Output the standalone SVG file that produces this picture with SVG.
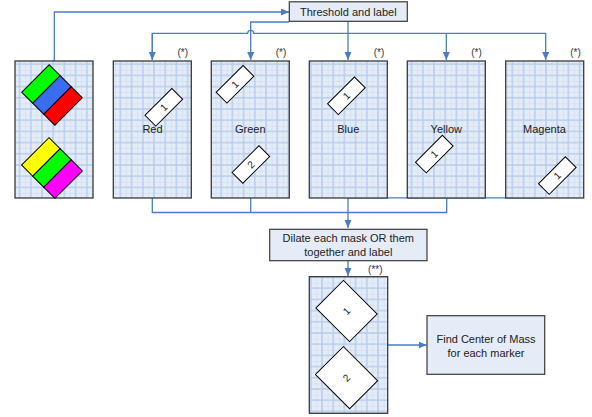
<svg xmlns="http://www.w3.org/2000/svg" width="592" height="417" viewBox="0 0 592 417">
  <style>
    .panel { fill: url(#grid); stroke: #3a3a3a; stroke-width: 1.3; }
    .box { fill: #e5ecf7; stroke: #3a3a3a; stroke-width: 1.2; }
    .mk { fill: #ffffff; stroke: #000000; stroke-width: 1; }
    .stripe { stroke: #000000; stroke-width: 1; }
    .conn { fill: none; stroke: #4a7cc8; stroke-width: 1.3; }
    .lbl { font-family: "Liberation Sans", Arial, sans-serif; font-size: 11px; fill: #222222; text-anchor: middle; }
    .num { font-family: "Liberation Sans", Arial, sans-serif; font-size: 10px; fill: #222222; text-anchor: middle; dominant-baseline: central; }
    .note { font-family: "Liberation Sans", Arial, sans-serif; font-size: 10px; fill: #333333; text-anchor: middle; }
  </style>
  <defs>
    <pattern id="grid" patternUnits="userSpaceOnUse" x="2.8" y="2.6" width="11.2" height="11.2">
      <rect width="11.2" height="11.2" fill="#e4ecf8"/>
      <rect x="0" y="0" width="0.6" height="11.2" fill="#d0dcf0"/>
      <rect x="0" y="0" width="11.2" height="0.6" fill="#d0dcf0"/>
      <rect x="4.85" y="0" width="1.5" height="11.2" fill="#b9cdeb"/>
      <rect x="0" y="4.85" width="11.2" height="1.5" fill="#b9cdeb"/>
    </pattern>
    <marker id="arrow" markerUnits="userSpaceOnUse" markerWidth="9" markerHeight="8" refX="8" refY="3.5" orient="auto">
      <path d="M0,0 L8,3.5 L0,7 z" fill="#4a7cc8"/>
    </marker>
  </defs>

  <!-- connectors -->
  <g id="connectors">
    <path class="conn" d="M54.3,61 V12 H289" marker-end="url(#arrow)"/>
    <path class="conn" d="M289,22 H250.7 V60" marker-end="url(#arrow)"/>
    <path class="conn" d="M348,21 V60" marker-end="url(#arrow)"/>
    <path class="conn" d="M152.3,60 V33.3 H247.7 A3,3 0 0 1 253.7,33.3 H545.7 V60" marker-end="url(#arrow)"/>
    <path class="conn" d="M446.3,33.3 V60" marker-end="url(#arrow)"/>
    <path class="conn" d="M152.3,33.3 V60" marker-end="url(#arrow)"/>
    <path class="conn" d="M152.3,198 V212.5 H446.7 V198"/>
    <path class="conn" d="M250.7,198 V212.5"/>
    <path class="conn" d="M544,197.8 H348"/>
    <path class="conn" d="M348,198 V228" marker-end="url(#arrow)"/>
    <path class="conn" d="M348,261 V276" marker-end="url(#arrow)"/>
    <path class="conn" d="M387.7,345 H426.5" marker-end="url(#arrow)"/>
  </g>

  <!-- input image with both coloured markers -->
  <g id="input">
    <rect class="panel" x="15" y="61" width="78" height="137"/>
    <g transform="translate(52,95) rotate(45)">
      <rect class="stripe" x="-23.4" y="-19.4" width="15.6" height="38.8" fill="#00ff00"/>
      <rect class="stripe" x="-7.8" y="-19.4" width="15.6" height="38.8" fill="#3a6cf0"/>
      <rect class="stripe" x="7.8" y="-19.4" width="15.6" height="38.8" fill="#ff0000"/>
    </g>
    <g transform="translate(52,168) rotate(45)">
      <rect class="stripe" x="-23.6" y="-19.4" width="15.7" height="38.8" fill="#ffff00"/>
      <rect class="stripe" x="-7.9" y="-19.4" width="15.7" height="38.8" fill="#00ff00"/>
      <rect class="stripe" x="7.8" y="-19.4" width="15.7" height="38.8" fill="#ff00ff"/>
    </g>
  </g>

  <!-- colour masks -->
  <g id="red">
    <rect class="panel" x="113.3" y="61" width="78" height="137"/>
    <text class="note" x="182.7" y="56">(*)</text>
    <g transform="translate(163.8,107.3) rotate(-45)">
      <rect class="mk" x="-19" y="-7.6" width="38" height="15.2"/>
      <text class="num" x="0" y="0">1</text>
    </g>
    <text class="lbl" x="152.5" y="133">Red</text>
  </g>

  <g id="green">
    <rect class="panel" x="211.3" y="61" width="78" height="137"/>
    <text class="note" x="281" y="56">(*)</text>
    <g transform="translate(235,84.3) rotate(-45)">
      <rect class="mk" x="-19" y="-7.6" width="38" height="15.2"/>
      <text class="num" x="0" y="0">1</text>
    </g>
    <g transform="translate(250.9,164.5) rotate(-45)">
      <rect class="mk" x="-19" y="-7.6" width="38" height="15.2"/>
      <text class="num" x="0" y="0">2</text>
    </g>
    <text class="lbl" x="250.3" y="133">Green</text>
  </g>

  <g id="blue">
    <rect class="panel" x="309.3" y="61" width="78" height="137"/>
    <text class="note" x="379" y="56">(*)</text>
    <g transform="translate(346.4,95.8) rotate(-45)">
      <rect class="mk" x="-19" y="-7.6" width="38" height="15.2"/>
      <text class="num" x="0" y="0">1</text>
    </g>
    <text class="lbl" x="348.3" y="133">Blue</text>
  </g>

  <g id="yellow">
    <rect class="panel" x="407.3" y="61" width="78" height="137"/>
    <text class="note" x="476.5" y="56">(*)</text>
    <g transform="translate(434.3,154.1) rotate(-45)">
      <rect class="mk" x="-19" y="-7.6" width="38" height="15.2"/>
      <text class="num" x="0" y="0">1</text>
    </g>
    <text class="lbl" x="446.3" y="133">Yellow</text>
  </g>

  <g id="magenta">
    <rect class="panel" x="505.7" y="61" width="78" height="137"/>
    <text class="note" x="575.5" y="56">(*)</text>
    <g transform="translate(557.3,175.6) rotate(-45)">
      <rect class="mk" x="-19" y="-7.6" width="38" height="15.2"/>
      <text class="num" x="0" y="0">1</text>
    </g>
    <text class="lbl" x="544.5" y="133">Magenta</text>
  </g>

  <!-- processing steps -->
  <g id="threshold">
    <rect class="box" x="289.3" y="1.8" width="118" height="19.5"/>
    <text class="lbl" x="348.3" y="15.5">Threshold and label</text>
  </g>

  <g id="dilate">
    <rect class="box" x="269.7" y="229.3" width="157.3" height="31.4"/>
    <text class="lbl" x="348.3" y="242">Dilate each mask OR them</text>
    <text class="lbl" x="348.3" y="256">together and label</text>
  </g>

  <g id="combined">
    <rect class="panel" x="309.3" y="276.7" width="78.4" height="136.6"/>
    <text class="note" x="375.3" y="272.5">(**)</text>
    <g transform="translate(346.5,311) rotate(45)">
      <rect class="mk" x="-23.8" y="-19.5" width="47.6" height="39"/>
      <text class="num" x="0" y="0" transform="rotate(-90)">1</text>
    </g>
    <g transform="translate(346.5,377.7) rotate(45)">
      <rect class="mk" x="-24.2" y="-19.8" width="48.4" height="39.6"/>
      <text class="num" x="0" y="0" transform="rotate(-90)">2</text>
    </g>
  </g>

  <g id="centre">
    <rect class="box" x="427" y="315.7" width="117.7" height="58.6"/>
    <text class="lbl" x="486" y="343">Find Center of Mass</text>
    <text class="lbl" x="486" y="356.5">for each marker</text>
  </g>
</svg>
